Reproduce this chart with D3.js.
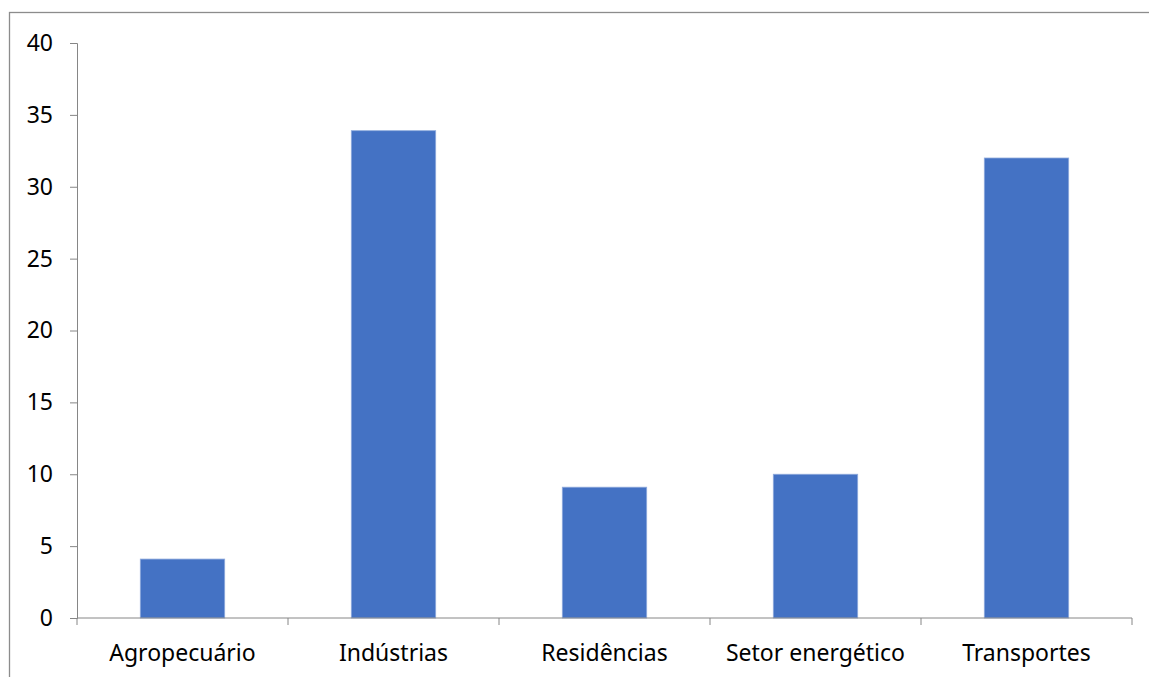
<!DOCTYPE html>
<html>
<head>
<meta charset="utf-8">
<script src="https://cdn.jsdelivr.net/npm/d3@7"></script>
<style>
  body { margin: 0; background: #fff; }
  text { font-family: "Noto Sans", "Open Sans", sans-serif; fill: #000; }
</style>
</head>
<body>
<svg id="chart" width="1149" height="677"></svg>
<script>
// data
var categories = ['Agropecuário', 'Indústrias', 'Residências', 'Setor energético', 'Transportes']
var values = [4.1, 33.9, 9.1, 10.0, 32.0]
var yTicks = [0, 5, 10, 15, 20, 25, 30, 35, 40]

var margin = { top: 43, left: 77, right: 17, bottom: 59 }
var width = 1149 - margin.left - margin.right
var height = 677 - margin.top - margin.bottom
var fontFamily = '"Noto Sans", "Open Sans", sans-serif'

var svg = d3.select('#chart')

// outer chart frame (runs off the right and bottom of the picture)
svg.append('rect')
  .attr('x', 9.5).attr('y', 12.5)
  .attr('width', 1200).attr('height', 700)
  .attr('fill', 'none')
  .attr('stroke', '#8c8c8c')
  .attr('stroke-width', 1.3)

var g = svg.append('g')
  .attr('id', 'graph-g')
  .attr('transform', 'translate(' + margin.left + ',' + margin.top + ')')

var x = d3.scaleBand().domain(categories).range([0, width]).paddingInner(0.6).paddingOuter(0.3)
var y = d3.scaleLinear().domain([0, 40]).range([height, 0])

// bars
g.selectAll('.bar')
  .data(values)
  .join('rect')
  .attr('class', 'bar')
  .attr('x', (d, i) => x(categories[i]))
  .attr('y', d => y(d))
  .attr('width', x.bandwidth())
  .attr('height', d => y(0) - y(d))
  .attr('fill', '#4472c4')
  .attr('stroke', '#8faadc')
  .attr('stroke-width', 0.8)

// y axis
var yAxis = g.append('g')
  .call(d3.axisLeft(y).tickValues(yTicks).tickSize(7).tickPadding(17).tickFormat(d3.format('d')))
yAxis.select('.domain').attr('stroke', '#868686')
yAxis.selectAll('.tick line').attr('stroke', '#868686')
yAxis.selectAll('.tick text').attr('font-size', 23).attr('fill', '#000')
  .style('font-family', fontFamily)

// x axis: ticks between categories, like a spreadsheet chart
var edges = d3.range(categories.length + 1).map(i => i * x.step())
var xAxis = g.append('g').attr('transform', 'translate(0,' + height + ')')
xAxis.append('line')
  .attr('x1', 0).attr('x2', width)
  .attr('stroke', '#868686')
xAxis.selectAll('.edge')
  .data(edges)
  .join('line')
  .attr('class', 'edge')
  .attr('x1', d => d).attr('x2', d => d)
  .attr('y1', 0).attr('y2', 7)
  .attr('stroke', '#868686')
xAxis.selectAll('.label')
  .data(categories)
  .join('text')
  .attr('class', 'label')
  .attr('x', d => x(d) + x.bandwidth() / 2)
  .attr('y', 43)
  .attr('text-anchor', 'middle')
  .attr('font-size', 23)
  .text(d => d)
</script>
</body>
</html>
